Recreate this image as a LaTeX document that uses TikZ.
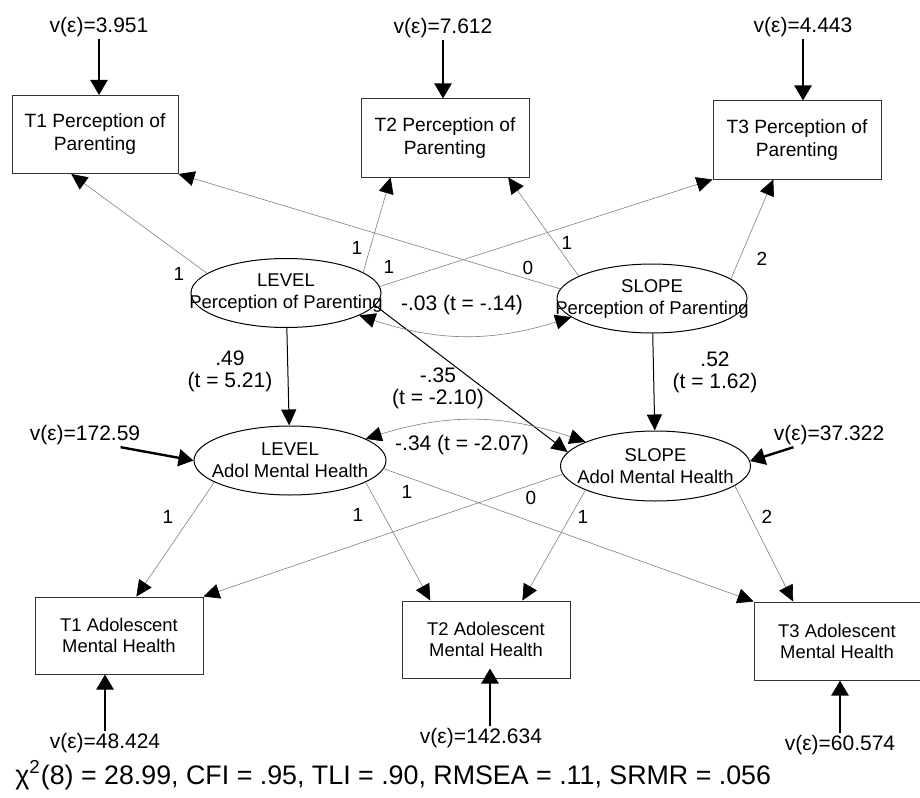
\documentclass[tikz,border=0pt]{standalone}
\usepackage{fontspec}
\setmainfont{Liberation Sans}
\usetikzlibrary{arrows.meta,shapes.geometric}

\begin{document}
\begin{tikzpicture}[x=0.5pt,y=-0.5pt,
  obs/.style={draw=black!80, line width=0.5pt, minimum width=84pt, minimum height=39pt,
    inner sep=0pt, align=center, font=\fontsize{9.6}{11.5}\selectfont},
  obsb/.style={obs, font=\fontsize{9.2}{10.5}\selectfont},
  lat/.style={draw, ellipse, line width=0.5pt, minimum width=95pt, minimum height=34.5pt, inner sep=0pt},
  lattext/.style={align=center, inner sep=0pt, font=\fontsize{9.25}{11}\selectfont},
  errlab/.style={inner sep=1pt, font=\fontsize{10.5}{12}\selectfont},
  load/.style={draw=black!50, line width=0.3pt, -{Triangle[color=black,width=7.5pt,length=8pt]}},
  regr/.style={line width=0.5pt, -{Triangle[width=7.5pt,length=8pt]}},
  errarr/.style={line width=1.2pt, -{Triangle[width=8.5pt,length=7.5pt]}},
  cov/.style={draw=black!50, line width=0.3pt,
    {Triangle[color=black,width=7.5pt,length=8pt]}-{Triangle[color=black,width=7.5pt,length=8pt]}},
  wt/.style={inner sep=0pt, font=\fontsize{9.5}{11}\selectfont},
  est/.style={align=center, inner sep=0pt, font=\fontsize{10.5}{11}\selectfont}]
  \useasboundingbox (0,0) rectangle (920,797);

  % observed: perception of parenting
  \node[obs, minimum width=83pt] (pp1) at (95,134.5) {T1 Perception of\\Parenting};
  \node[obs] (pp2) at (445,138) {T2 Perception of\\Parenting};
  \node[obs] (pp3) at (797,140) {T3 Perception of\\Parenting};

  % latent growth factors
  \node[lat, label={[lattext]center:{LEVEL\\Perception of Parenting}}] (lpp) at (286,293) {};
  \node[lat, label={[lattext]center:{SLOPE\\Perception of Parenting}}] (spp) at (652,298.5) {};
  \node[lat, minimum width=96pt, label={[lattext]center:{LEVEL\\Adol Mental Health}}] (lamh) at (290,460.5) {};
  \node[lat, minimum height=35pt, label={[lattext]center:{SLOPE\\Adol Mental Health}}] (samh) at (655.5,466) {};

  % observed: adolescent mental health
  \node[obsb, minimum height=38.5pt] (am1) at (119,635.5) {T1 Adolescent\\Mental Health};
  \node[obsb, minimum height=38.5pt] (am2) at (486,639.5) {T2 Adolescent\\Mental Health};
  \node[obsb, minimum width=83pt] (am3) at (837,641) {T3 Adolescent\\Mental Health};

  % residual variances
  \node[errlab] (v1) at (99,27) {v(ε)=3.951};
  \node[errlab] (v2) at (443,28) {v(ε)=7.612};
  \node[errlab] (v3) at (803,27) {v(ε)=4.443};
  \node[errlab] (vl) at (85,435) {v(ε)=172.59};
  \node[errlab] (vs) at (829,435) {v(ε)=37.322};
  \node[errlab] (b1) at (105,743) {v(ε)=48.424};
  \node[errlab] (b2) at (481,738) {v(ε)=142.634};
  \node[errlab] (b3) at (840,745) {v(ε)=60.574};

  \draw[errarr] (v1) -- (v1 |- pp1.north);
  \draw[errarr] (v2) -- (v2 |- pp2.north);
  \draw[errarr] (v3) -- (v3 |- pp3.north);
  \draw[errarr] ([xshift=-11pt]vl.south east) -- (lamh.west);
  \draw[errarr] ([xshift=11pt]vs.south west) -- (samh.3);
  \draw[errarr] (b1) -- (b1 |- am1.south);
  \draw[errarr] ([xshift=4.5pt]b2.north) -- ([xshift=4.5pt,yshift=5pt]b2.north |- am2.south);
  \draw[errarr] (b3) -- (b3 |- am3.south);

  % loadings, parenting
  \draw[load] (lpp.166.5) -- (pp1.-121);
  \draw[load] (lpp.15.3) -- (pp2.-144);
  \draw[load] (lpp.4.8) -- (pp3.south west);
  \draw[load] (spp.174.8) -- (pp1.south east);
  \draw[load] (spp.163.3) -- (pp2.-32.9);
  \draw[load] (spp.14.4) -- (pp3.-121.4);
  \node[wt] (w1) at (179,274) {1};
  \node[wt] (w2) at (357,248) {1};
  \node[wt] (w3) at (389,267) {1};
  \node[wt] (w4) at (528,268) {0};
  \node[wt] (w5) at (567,243) {1};
  \node[wt] (w6) at (762,259) {2};

  % loadings, mental health
  \draw[load] (lamh.-164.8) -- (am1.66.6);
  \draw[load] (lamh.-16.3) -- (am2.145.8);
  \draw[load] (lamh.-5.1) -- (am3.north west);
  \draw[load] (samh.-175.1) -- (am1.north east);
  \draw[load] (samh.-161.7) -- (am2.47.9);
  \draw[load] (samh.-14.8) -- (am3.138.9);
  \node[wt] (w7) at (168,517) {1};
  \node[wt] (w8) at (358,515) {1};
  \node[wt] (w9) at (407,492) {1};
  \node[wt] (w10) at (531,498) {0};
  \node[wt] (w11) at (583,517) {1};
  \node[wt] (w12) at (767,517) {2};

  % structural paths and covariances
  \draw[regr] (lpp) -- (lamh);
  \draw[regr] (spp) -- (samh);
  \draw[regr] (lpp.-8) -- (samh.171);
  \draw[cov] (lpp.-17) to[bend right=18] (spp.-167);
  \draw[cov] (lamh.16) to[bend left=18] (samh.161);
  \node[est] (e1) at (230,371) {.49\\(t = 5.21)};
  \node[est] (e2) at (715,372) {.52\\(t = 1.62)};
  \node[est] (e3) at (438,388) {-.35\\(t = -2.10)};
  \node[est] (e4) at (462,305) {-.03 (t = -.14)};
  \node[est] (e5) at (462,445) {-.34 (t = -2.07)};

  % model fit
  \node[anchor=west, inner sep=0pt, font=\fontsize{13.4}{15}\selectfont] (fit) at (15,775)
    {χ\textsuperscript{2}(8) = 28.99, CFI = .95, TLI = .90, RMSEA = .11, SRMR = .056};
\end{tikzpicture}
\end{document}
